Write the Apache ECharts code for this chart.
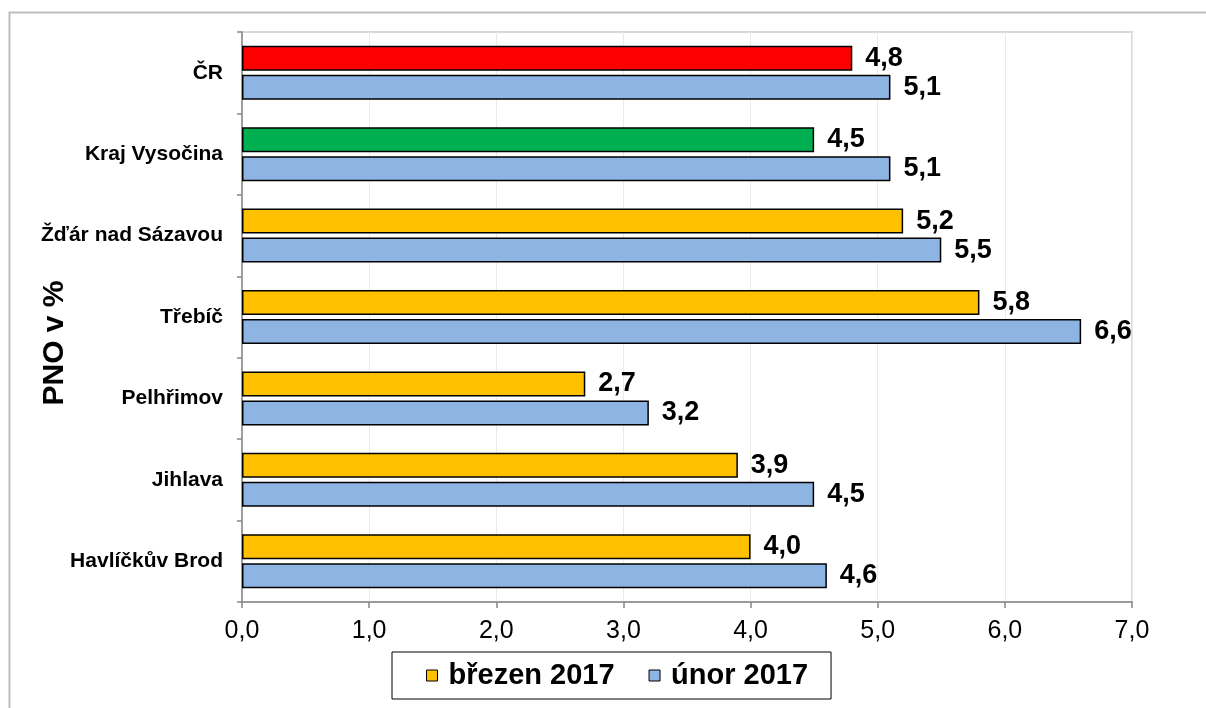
<!DOCTYPE html>
<html>
<head>
<meta charset="utf-8">
<script src="https://cdn.jsdelivr.net/npm/echarts@6/dist/echarts.min.js"></script>
<style>
  html, body { margin: 0; padding: 0; background: #fff; }
  #chart { width: 1206px; height: 708px; }
</style>
</head>
<body>
<div id="chart"></div>
<script>
// kategorie odspodu nahoru (osa y)
const categories = ['Havlíčkův Brod', 'Jihlava', 'Pelhřimov', 'Třebíč', 'Žďár nad Sázavou', 'Kraj Vysočina', 'ČR'];
const brezen2017 = [4.0, 3.9, 2.7, 5.8, 5.2, 4.5, 4.8];
const unor2017 = [4.6, 4.5, 3.2, 6.6, 5.5, 5.1, 5.1];
const xTicks = [0, 1, 2, 3, 4, 5, 6, 7];

// barvy
const colYellow = '#FFC000';
const colBlue = '#8EB4E3';
const colRed = '#FF0000';
const colGreen = '#00B050';
const specialColors = { 'ČR': colRed, 'Kraj Vysočina': colGreen };

const fmt = v => Number(v).toFixed(1).replace('.', ',');
const font = '"Liberation Sans", Arial, sans-serif';

const chart = echarts.init(document.getElementById('chart'));

const labelStyle = {
  show: true,
  position: 'right',
  distance: 13,
  color: '#000',
  fontFamily: font,
  fontWeight: 'bold',
  fontSize: 27,
  formatter: p => fmt(p.value)
};

const option = {
  animation: false,
  backgroundColor: '#fff',
  graphic: [{
    type: 'rect',
    left: 7,
    top: 10,
    shape: { width: 1300, height: 800 },
    style: { fill: 'none', stroke: '#bdbdbd', lineWidth: 2 },
    silent: true
  }],
  grid: {
    left: 242,
    right: 74,
    top: 32,
    bottom: 106,
    outerBoundsMode: 'none',
    containLabel: false,
    show: true,
    borderColor: '#d9d9d9',
    borderWidth: 2
  },
  legend: {
    data: ['březen 2017', 'únor 2017'],
    left: 392,
    top: 652,
    icon: 'rect',
    itemWidth: 11,
    itemHeight: 11,
    itemGap: 34,
    padding: [9, 23, 9, 34],
    borderColor: '#000',
    borderWidth: 1,
    itemStyle: { borderColor: '#000', borderWidth: 1 },
    textStyle: {
      color: '#000',
      fontFamily: font,
      fontWeight: 'bold',
      fontSize: 29,
      padding: [0, 0, 0, 6]
    }
  },
  xAxis: {
    type: 'value',
    min: xTicks[0],
    max: xTicks[xTicks.length - 1],
    interval: 1,
    axisLine: { show: true, lineStyle: { color: '#868686', width: 1.5 } },
    axisTick: { show: true, length: 6, lineStyle: { color: '#868686', width: 1.5 } },
    splitLine: { show: true, lineStyle: { color: '#ebebe3', width: 1 } },
    axisLabel: {
      color: '#000',
      fontFamily: font,
      fontSize: 25,
      margin: 17,
      formatter: v => fmt(v)
    }
  },
  yAxis: {
    type: 'category',
    data: categories,
    name: 'PNO v %',
    nameLocation: 'middle',
    nameRotate: 90,
    nameGap: 172,
    nameMoveOverlap: false,
    nameTextStyle: {
      color: '#000',
      fontFamily: font,
      fontWeight: 'bold',
      fontSize: 30,
      // posun titulku níže (text je otočený o 90°)
      padding: [0, 52, 0, 0]
    },
    axisLine: { show: true, lineStyle: { color: '#868686', width: 1.5 } },
    axisTick: { show: true, length: 5, lineStyle: { color: '#868686', width: 1.5 } },
    axisLabel: {
      color: '#000',
      fontFamily: font,
      fontWeight: 'bold',
      fontSize: 21,
      margin: 19
    }
  },
  series: [
    {
      name: 'březen 2017',
      type: 'bar',
      barWidth: 25,
      barGap: '16%',
      itemStyle: {
        color: p => specialColors[p.name] || colYellow,
        borderColor: '#000',
        borderWidth: 1.5
      },
      label: labelStyle,
      data: brezen2017
    },
    {
      name: 'únor 2017',
      type: 'bar',
      barWidth: 25,
      barGap: '16%',
      itemStyle: { color: colBlue, borderColor: '#000', borderWidth: 1.5 },
      label: labelStyle,
      data: unor2017
    }
  ]
};

// legenda: březen se ve skutečnosti kreslí žlutě
option.series[0].color = colYellow;

chart.setOption(option);
</script>
</body>
</html>
